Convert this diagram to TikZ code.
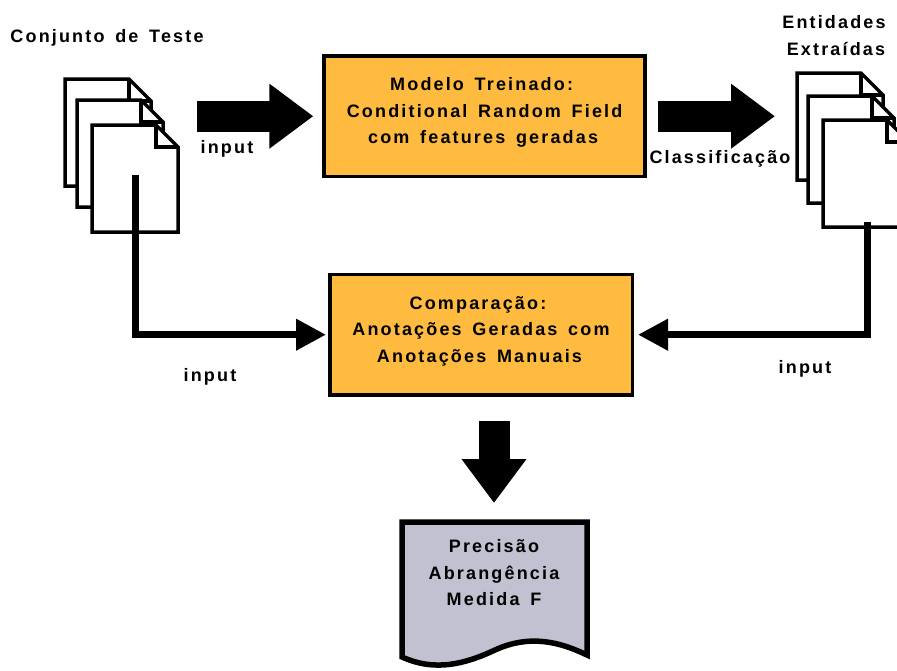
\documentclass[tikz,border=0pt]{standalone}
\usepackage{fontspec}
\setmainfont[LetterSpace=12,WordSpace=1.5]{Liberation Sans}
\usetikzlibrary{arrows.meta}
\definecolor{boxorange}{HTML}{FFBB40}
\definecolor{sheetgray}{HTML}{C1C1D1}
\newcommand{\boxpad}{\rule[-11pt]{0pt}{1pt}\hspace*{3pt}}
\tikzset{
		every node/.style={font=\fontsize{18}{26.5}\selectfont\bfseries,align=center},
		procbox/.style={draw,fill=boxorange,line width=3.5pt,minimum height=120.5pt},
		bigflow/.style={line width=31pt,-{Triangle[length=44pt,width=62pt]}},
		thinflow/.style={line width=7pt,-{Triangle[length=30pt,width=30pt]}},
		docpage/.pic={
			\draw[fill=white,line width=3.5pt] (0,0) -- (64,0) -- (86,22) -- (86,107) -- (0,107) -- cycle;
			\draw[line width=3.5pt] (64,0) -- (64,22) -- (86,22);
		},
		}

\begin{document}
\begin{tikzpicture}[x=1pt,y=-1pt,node distance=218.5pt]
					\clip (0,0) rectangle (897,670);
					%NODES for boxes
					\node[procbox,minimum width=321pt](modelo) at (484.6,116.2){Modelo Treinado:\hspace*{6pt}\\Conditional Random Field\hspace*{3pt}\\com features geradas\boxpad};
					\node[procbox,minimum width=302.5pt](compara)[below of = modelo, xshift=-3.6pt]{Comparação:\hspace*{6pt}\\Anotações Geradas com\hspace*{3pt}\\Anotações Manuais\boxpad};
					%PAGES left
					\pic at (65,79) {docpage};
					\pic at (77,100) {docpage};
					\pic at (92,125) {docpage};
					%PAGES right
					\pic at (797,73) {docpage};
					\pic at (808,96) {docpage};
					\pic at (823,120) {docpage};
					%SHEET with results
					\draw[fill=sheetgray,line width=5.5pt] (402,522) -- (587,522) -- (587,655) .. controls (560,642) and (530,634) .. (495,650) .. controls (465,664) and (435,672) .. (402,657) -- cycle;
					\node(metricas) at (494,573){Precisão\\Abrangência\\Medida F};
					%LABELS
					\node(conjunto) at (107,38){Conjunto de Teste};
					\node(entidades) at (834,35.5){Entidades\\\hspace*{4pt}Extraídas};
					\node(inputa) at (227,149){input};
					\node(classif) at (720,159){Classificação};
					\node(inputb) at (210,377){input};
					\node(inputc) at (805,369){input};
					%FREE ENDS
					\coordinate (testdocs) at (135.5,175);
					\coordinate (testout) at (197,116.2);
					\coordinate (modelout) at (658,116.2);
					\coordinate (extraidas) at (867,222);
					\coordinate (compout) at (494,421);
					\coordinate (sheettop) at (494,503);
					%PATHS
					\draw[bigflow,shorten >=9pt] (testout) -- (modelo.west);
					\draw[bigflow] (modelout) -- (modelout -| 775,0);
					\draw[thinflow,shorten >=2pt] (testdocs) |- (compara.west);
					\draw[thinflow,shorten >=4pt] (extraidas) |- (compara.east);
					\draw[bigflow] (compout) -- (sheettop);
				\end{tikzpicture}
\end{document}
